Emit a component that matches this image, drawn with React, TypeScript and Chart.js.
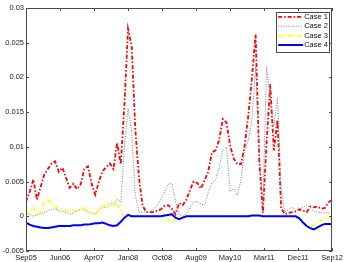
import React, { useEffect, useRef } from 'react';
import { Chart, registerables } from 'chart.js';

Chart.register(...registerables);

// Tick labels (dates from Sep05 to Sep12, month index 0..84)
const xTickLabels = ['Sep05', 'Jun06', 'Apr07', 'Jan08', 'Oct08', 'Aug09', 'May10', 'Mar11', 'Dec11', 'Sep12'];
const monthCount = 84;
const yTickValues = [-0.005, 0, 0.005, 0.01, 0.015, 0.02, 0.025, 0.03];
const yTickLabels = ['-0.005', '0', '0.005', '0.01', '0.015', '0.02', '0.025', '0.03'];

const seriesNames = ['Case 1', 'Case 2', 'Case 3', 'Case 4'];

// Monthly values, Sep05 .. Sep12
const case1 = [
  0.0021, 0.0035, 0.0053, 0.0024, 0.0042, 0.006, 0.0068, 0.0076, 0.0079, 0.0064,
  0.007, 0.0055, 0.0041, 0.0047, 0.0039, 0.0046, 0.0068, 0.0072, 0.0047, 0.0031,
  0.005, 0.0065, 0.0071, 0.0076, 0.0068, 0.0106, 0.0075, 0.016, 0.027, 0.0245,
  0.0125, 0.0055, 0.0015, 0.0006, 0.0006, 0.0006, 0.0008, 0.001, 0.0015, 0.0016,
  0.0011, 0.0003, 0.0019, 0.0016, 0.0024, 0.0038, 0.005, 0.0048, 0.004, 0.0052,
  0.0064, 0.0092, 0.0095, 0.011, 0.014, 0.0135, 0.0102, 0.0083, 0.0075, 0.0075,
  0.0102, 0.0145, 0.02, 0.0262, 0.008, 0.0005, 0.0105, 0.019, 0.0095, 0.0139,
  0.0012, 0.0003, 0.0005, 0.0006, 0.0007, 0.001, 0.0008, 0.0006, 0.0014, 0.0013,
  0.0014, 0.0011, 0.0012, 0.002, 0.0024,
];

const case2 = [
  0.0, 0.0003, 0.0, 0.0002, 0.0004, 0.0005, 0.0008, 0.001, 0.0011, 0.0008,
  0.0007, 0.0005, 0.0003, 0.0005, 0.0008, 0.001, 0.0009, 0.0007, 0.0004, 0.0003,
  0.001, 0.0014, 0.0012, 0.0016, 0.0017, 0.0025, 0.002, 0.01, 0.0155, 0.012,
  0.003, 0.0006, 0.0006, 0.0006, 0.0006, 0.001, 0.0016, 0.0024, 0.0035, 0.0046,
  0.0048, 0.0022, 0.0003, 0.0, 0.0004, 0.0012, 0.0021, 0.0021, 0.0018, 0.0016,
  0.0034, 0.0048, 0.0052, 0.007, 0.0095, 0.01, 0.0035, 0.004, 0.003, 0.0053,
  0.0095, 0.011, 0.014, 0.0215, 0.009, 0.0015, 0.0215, 0.017, 0.013, 0.017,
  0.004, 0.0006, 0.001, 0.0013, 0.0008, 0.001, 0.0013, 0.0016, 0.0012, 0.0007,
  0.0006, 0.0005, 0.0005, 0.0005, 0.0005,
];

const case3 = [
  0.0003, 0.0006, 0.0012, 0.0003, 0.0005, 0.002, 0.0025, 0.0018, 0.0013, 0.0011,
  0.001, 0.0007, 0.001, 0.0008, 0.0007, 0.0009, 0.0013, 0.0007, 0.0004, 0.0002,
  0.0008, 0.0013, 0.0017, 0.002, 0.0016, 0.0019, 0.0006, 0.0, 0.0, 0.0,
  0.0, 0.0, 0.0, 0.0, 0.0, 0.0, 0.0, 0.0, 0.0, -0.0004,
  -0.0009, -0.0004, 0.0, 0.0, 0.0, 0.0, 0.0, 0.0, 0.0, 0.0,
  0.0, 0.0, 0.0, 0.0, 0.0, 0.0, 0.0, 0.0, 0.0, 0.0,
  0.0, 0.0, 0.0, 0.0, 0.0, 0.0, 0.0, 0.0, 0.0, 0.0,
  0.0, 0.0, 0.0, 0.0, 0.0, -0.0002, -0.0008, -0.0013, -0.0015, -0.0013,
  -0.0009, -0.0006, -0.0004, -0.0003, -0.0002,
];

const case4 = [
  -0.0009, -0.0012, -0.0014, -0.0015, -0.0016, -0.0017, -0.0017, -0.0016, -0.0015, -0.0014,
  -0.0014, -0.0014, -0.0014, -0.0013, -0.0013, -0.0013, -0.0012, -0.0012, -0.0011, -0.001,
  -0.001, -0.0009, -0.0011, -0.0013, -0.0014, -0.0013, -0.0008, -0.0002, 0.0002, 0.0,
  0.0, 0.0, 0.0, 0.0, 0.0, 0.0, 0.0, 0.0, 0.0001, 0.0002,
  0.0003, -0.0002, -0.0004, -0.0002, 0.0, 0.0, 0.0, 0.0, 0.0, 0.0,
  0.0, 0.0, 0.0, 0.0, 0.0, 0.0, 0.0, 0.0, 0.0, 0.0,
  0.0, 0.0, 0.0001, 0.0001, 0.0001, 0.0, 0.0, 0.0, 0.0, 0.0,
  0.0, 0.0, 0.0, 0.0, 0.0, -0.0003, -0.0009, -0.0014, -0.0017, -0.0019,
  -0.0016, -0.0013, -0.0011, -0.0011, -0.0011,
];

const seriesValues = [case1, case2, case3, case4];
const seriesColors = ['#ff0000', '#7a7a7a', '#ffff00', '#0000ff'];
const seriesWidths = [1.8, 1, 1.6, 2];
const seriesDashes = [[4, 2, 1.5, 2], [1, 1.5], [4, 2, 1.5, 2], []];

const FONT = '"Liberation Sans", Arial, Helvetica, sans-serif';
const AXIS_COLOR = '#4a4a4a';

const framePlugin = {
  id: 'matlabFrame',
  afterDraw(chart: any) {
    const { ctx, chartArea, scales } = chart;
    const { left, right, top, bottom } = chartArea;
    ctx.save();
    ctx.strokeStyle = AXIS_COLOR;
    ctx.lineWidth = 1;
    ctx.strokeRect(Math.round(left) + 0.5, Math.round(top) + 0.5, Math.round(right - left) - 1, Math.round(bottom - top) - 1);
    const tl = 3;
    ctx.beginPath();
    scales.x.ticks.forEach((t: any) => {
      const px = Math.round(scales.x.getPixelForValue(t.value)) + 0.5;
      ctx.moveTo(px, bottom);
      ctx.lineTo(px, bottom - tl);
      ctx.moveTo(px, top);
      ctx.lineTo(px, top + tl);
    });
    scales.y.ticks.forEach((t: any) => {
      const py = Math.round(scales.y.getPixelForValue(t.value)) + 0.5;
      ctx.moveTo(left, py);
      ctx.lineTo(left + tl, py);
      ctx.moveTo(right, py);
      ctx.lineTo(right - tl, py);
    });
    ctx.stroke();

    // legend box in the upper right of the axes
    const bx = right - 56;
    const by = top + 4;
    const bw = 53;
    const bh = 40;
    ctx.fillStyle = '#ffffff';
    ctx.fillRect(bx, by, bw, bh);
    ctx.strokeStyle = AXIS_COLOR;
    ctx.strokeRect(Math.round(bx) + 0.5, Math.round(by) + 0.5, bw, bh);
    ctx.font = `7.5px ${FONT}`;
    ctx.textBaseline = 'middle';
    ctx.textAlign = 'left';
    seriesNames.forEach((name, i) => {
      const ry = by + 4.8 + i * 9.4;
      ctx.save();
      ctx.strokeStyle = seriesColors[i];
      ctx.lineWidth = seriesWidths[i];
      ctx.setLineDash(seriesDashes[i]);
      ctx.beginPath();
      ctx.moveTo(bx + 2, ry);
      ctx.lineTo(bx + 27, ry);
      ctx.stroke();
      ctx.restore();
      ctx.fillStyle = '#111111';
      ctx.fillText(name, bx + 28, ry);
    });
    ctx.restore();
  },
};

export default function App() {
  const canvasRef = useRef<HTMLCanvasElement | null>(null);

  useEffect(() => {
    if (!canvasRef.current) return;
    const datasets = seriesNames.map((name, i) => ({
      label: name,
      data: seriesValues[i].map((v, m) => ({ x: m, y: v })),
      borderColor: seriesColors[i],
      backgroundColor: seriesColors[i],
      borderWidth: seriesWidths[i],
      borderDash: seriesDashes[i],
      pointRadius: 0,
      tension: 0,
      fill: false,
      order: 4 - i,
    }));
    const chart = new Chart(canvasRef.current, {
      type: 'line',
      data: { datasets },
      options: {
        animation: false,
        responsive: true,
        maintainAspectRatio: false,
        layout: { padding: { top: 8, right: 10, left: 0, bottom: 0 } },
        plugins: { legend: { display: false }, tooltip: { enabled: false } },
        scales: {
          x: {
            type: 'linear',
            min: 0,
            max: monthCount,
            grid: { display: false, drawTicks: false },
            border: { display: false },
            afterBuildTicks: (scale: any) => {
              scale.ticks = xTickLabels.map((_, i) => ({ value: (i * monthCount) / (xTickLabels.length - 1) }));
            },
            afterFit: (scale: any) => {
              scale.height = 11;
            },
            ticks: {
              autoSkip: false,
              maxRotation: 0,
              padding: 2,
              color: '#222222',
              font: { family: FONT, size: 7.5 },
              callback: (_v: any, i: number) => xTickLabels[i],
            },
          },
          y: {
            type: 'linear',
            min: -0.005,
            max: 0.03,
            grid: { display: false, drawTicks: false },
            border: { display: false },
            afterBuildTicks: (scale: any) => {
              scale.ticks = yTickValues.map((v) => ({ value: v }));
            },
            afterFit: (scale: any) => {
              scale.width = 26;
            },
            ticks: {
              padding: 2,
              color: '#222222',
              font: { family: FONT, size: 7.5 },
              callback: (_v: any, i: number) => yTickLabels[i],
            },
          },
        },
      },
      plugins: [framePlugin],
    });
    return () => chart.destroy();
  }, []);

  return (
    <div style={{ position: 'absolute', left: 0, top: 0, width: 345, height: 262, background: '#fff' }}>
      <canvas ref={canvasRef} />
    </div>
  );
}
